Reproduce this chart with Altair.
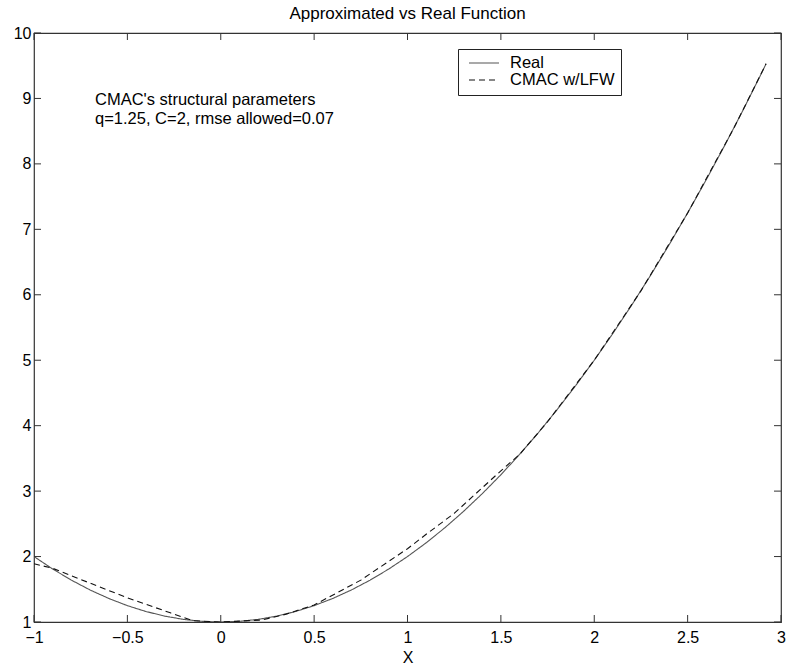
import altair as alt
import pandas as pd

# Real function samples
real_x = [-1.0, -0.9, -0.8, -0.7, -0.6, -0.5, -0.4, -0.3, -0.2, -0.1, 0.0,
          0.1, 0.2, 0.3, 0.4, 0.5, 0.6, 0.7, 0.8, 0.9, 1.0, 1.1, 1.2, 1.3,
          1.4, 1.5, 1.6, 1.7, 1.8, 1.9, 2.0, 2.1, 2.2, 2.3, 2.4, 2.5, 2.6,
          2.7, 2.8, 2.9, 2.92]
real_y = [2.0, 1.81, 1.64, 1.49, 1.36, 1.25, 1.16, 1.09, 1.04, 1.01, 1.0,
          1.01, 1.04, 1.09, 1.16, 1.25, 1.36, 1.49, 1.64, 1.81, 2.0, 2.21,
          2.44, 2.69, 2.96, 3.25, 3.56, 3.89, 4.24, 4.61, 5.0, 5.41, 5.84,
          6.29, 6.76, 7.25, 7.76, 8.29, 8.84, 9.41, 9.53]

# CMAC w/LFW approximation
cmac_x = [-1.0, -0.9, -0.75, -0.5, -0.27, -0.15, 0.0, 0.22, 0.35, 0.5, 0.75,
          1.0, 1.1, 1.25, 1.5, 1.6, 1.75, 2.0, 2.25, 2.5, 2.75, 2.92]
cmac_y = [1.89, 1.82, 1.65, 1.37, 1.14, 1.02, 1.0, 1.03, 1.12, 1.26, 1.64,
          2.12, 2.34, 2.66, 3.31, 3.56, 4.06, 5.0, 6.06, 7.25, 8.56, 9.53]

series_names = ["Real", "CMAC w/LFW"]
x_ticks = [-1, -0.5, 0, 0.5, 1, 1.5, 2, 2.5, 3]
y_ticks = [1, 2, 3, 4, 5, 6, 7, 8, 9, 10]
annotation = ["CMAC's structural parameters", "q=1.25, C=2, rmse allowed=0.07"]

FONT = "Liberation Sans"
W, H = 747, 589
TL = 7
AX = "#333333"

df = pd.concat([
    pd.DataFrame({"x": real_x, "y": real_y, "series": series_names[0], "order": range(len(real_x))}),
    pd.DataFrame({"x": cmac_x, "y": cmac_y, "series": series_names[1], "order": range(len(cmac_x))}),
])

xscale = alt.Scale(domain=[-1, 3], nice=False, zero=False)
yscale = alt.Scale(domain=[1, 10], nice=False, zero=False)

legend = alt.Legend(title=None, orient="none", legendX=424, legendY=16,
                    symbolType="stroke", symbolSize=900, symbolOffset=4,
                    symbolStrokeWidth=1.1, labelFontSize=16.5,
                    labelFont=FONT, labelOffset=10, padding=6, clipHeight=16,
                    strokeColor="#222222", fillColor="white",
                    rowPadding=0, labelColor="black")

lines = alt.Chart(df).mark_line(strokeWidth=1.1, clip=True).encode(
    x=alt.X("x:Q", scale=xscale,
            axis=alt.Axis(values=x_ticks, ticks=False, grid=False, labelPadding=7,
                          title="X", titlePadding=4, domain=False, labelFlush=False,
                          format="~g")),
    y=alt.Y("y:Q", scale=yscale,
            axis=alt.Axis(values=y_ticks, ticks=False, grid=False, labelPadding=3,
                          title=None, domain=False, format="~g")),
    order="order:Q",
    color=alt.Color("series:N",
                    scale=alt.Scale(domain=series_names, range=["#555555", "#111111"]),
                    legend=legend),
    strokeDash=alt.StrokeDash("series:N",
                              scale=alt.Scale(domain=series_names, range=[[1, 0], [6, 4]]),
                              legend=legend),
)

xt = pd.DataFrame({"t": x_ticks})
yt = pd.DataFrame({"t": y_ticks})

bottom_ticks = alt.Chart(xt).mark_rule(color=AX, strokeWidth=1).encode(
    x=alt.X("t:Q", scale=xscale), y=alt.value(H), y2=alt.value(H - TL))
top_ticks = alt.Chart(xt).mark_rule(color=AX, strokeWidth=1).encode(
    x=alt.X("t:Q", scale=xscale), y=alt.value(0), y2=alt.value(TL))
left_ticks = alt.Chart(yt).mark_rule(color=AX, strokeWidth=1).encode(
    y=alt.Y("t:Q", scale=yscale), x=alt.value(0), x2=alt.value(TL))
right_ticks = alt.Chart(yt).mark_rule(color=AX, strokeWidth=1).encode(
    y=alt.Y("t:Q", scale=yscale), x=alt.value(W - TL), x2=alt.value(W))

ann_df = pd.DataFrame({"txt": ["\n".join(annotation)]})
ann = alt.Chart(ann_df).mark_text(align="left", baseline="middle", fontSize=16.5,
                                  font=FONT, color="black", lineBreak="\n",
                                  lineHeight=19).encode(
    text="txt:N",
    x=alt.value(61),
    y=alt.value(67),
)

chart = alt.layer(lines, bottom_ticks, top_ticks, left_ticks, right_ticks, ann).properties(
    width=W, height=H,
    title=alt.Title("Approximated vs Real Function", fontSize=17, font=FONT,
                    fontWeight="normal", color="black", anchor="middle", offset=2),
    padding={"left": 34, "top": 33, "right": 6, "bottom": 46},
    autosize=alt.AutoSizeParams(type="none"),
    background="white",
).configure_view(stroke=AX, strokeWidth=1.2).configure_axis(
    labelFont=FONT, labelFontSize=16, labelColor="black",
    titleFont=FONT, titleFontSize=16, titleFontWeight="normal", titleColor="black",
)

chart.save("out.html", embed_options={"renderer": "svg", "actions": False})
